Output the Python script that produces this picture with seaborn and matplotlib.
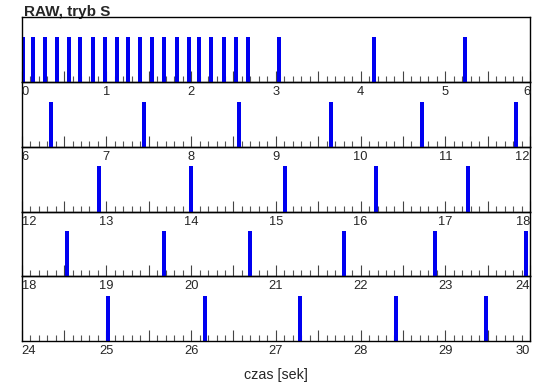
import numpy as np
import pandas as pd
import matplotlib
matplotlib.use("Agg")
import matplotlib.pyplot as plt
import seaborn as sns
from matplotlib.ticker import MultipleLocator, FixedLocator

# ---- data (event times in seconds) ----
event_times = [
    0.02, 0.13, 0.275, 0.417, 0.558, 0.688, 0.838, 0.98, 1.121, 1.258,
    1.396, 1.538, 1.676, 1.83, 1.971, 2.096, 2.238, 2.384, 2.526, 2.675,
    3.041, 4.158, 5.229,
    6.342, 7.447, 8.561, 9.651, 10.721, 11.831,
    12.916, 13.998, 15.104, 16.182, 17.268,
    18.531, 19.680, 20.699, 21.804, 22.878, 23.953,
    25.015, 26.160, 27.281, 28.418, 29.480,
]
panel_starts = [0, 6, 12, 18, 24]
panel_len = 6
title = "RAW, tryb S"
xlabel = "czas [sek]"

sns.set_style("white")
plt.rcParams["font.family"] = ["Liberation Sans", "DejaVu Sans"]

W, H = 550, 389
fig = plt.figure(figsize=(W / 100, H / 100), dpi=100)
fig.patch.set_facecolor("white")

left_px, right_px = 21.7, 530.0
top_px, bottom_px = 17.3, 341.0
ph = (bottom_px - top_px) / len(panel_starts)
bar_w = 0.047
blue = "#0000f0"

for i, s in enumerate(panel_starts):
    y0 = 1 - (top_px + (i + 1) * ph) / H
    ax = fig.add_axes([left_px / W, y0, (right_px - left_px) / W, ph / H])
    ax.set_facecolor("none")
    ax.set_zorder(10 - i)
    t = np.array([e for e in event_times if s <= e < s + panel_len])
    edges = np.sort(np.concatenate([t - bar_w / 2, t + bar_w / 2]))
    df = pd.DataFrame({"t": t})
    sns.histplot(data=df, x="t", bins=edges, ax=ax, color=blue, alpha=1,
                 linewidth=0, edgecolor=blue, stat="count", legend=False)
    ax.set_xlim(s, s + panel_len)
    ax.set_ylim(0, 1.43)
    ax.set_xlabel("")
    ax.set_ylabel("")
    ax.set_yticks([])
    for sp in ax.spines.values():
        sp.set_visible(True)
        sp.set_color("black")
        sp.set_linewidth(1.0)
    major = np.arange(s, s + panel_len + 0.01, 0.5)
    ax.xaxis.set_major_locator(FixedLocator(major))
    ax.xaxis.set_minor_locator(MultipleLocator(0.1))
    labels = [str(int(v)) if float(v).is_integer() else "" for v in major]
    ax.set_xticklabels(labels, fontsize=9.3)
    ax.tick_params(axis="x", which="major", direction="in", length=8,
                   width=0.8, color="#444444", pad=3, bottom=True, top=False)
    ax.tick_params(axis="x", which="minor", direction="in", length=4,
                   width=0.8, color="#555555", bottom=True, top=False)
    tls = ax.get_xticklabels()
    tls[0].set_horizontalalignment("left")
    tls[-1].set_horizontalalignment("right")

fig.text(24 / W, 1 - 16 / H, title, fontsize=11, fontweight="bold",
         ha="left", va="baseline")
fig.text((left_px + right_px) / 2 / W, 1 - 375 / H, xlabel, fontsize=10.3,
         ha="center", va="center")

fig.savefig("out.png", dpi=100)
